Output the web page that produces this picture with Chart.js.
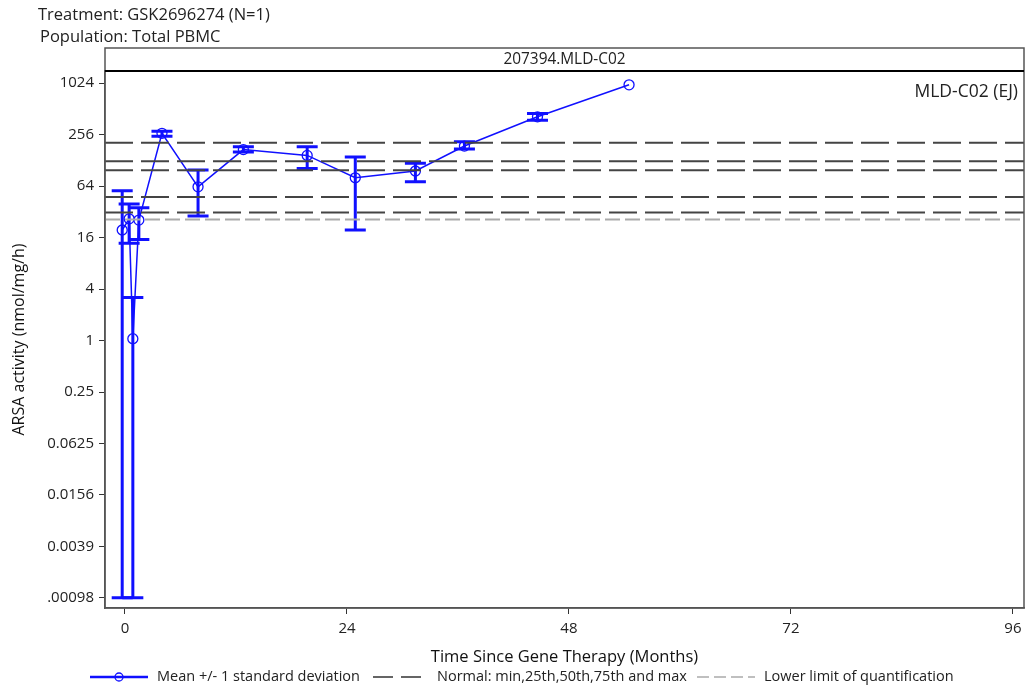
<!DOCTYPE html>
<html>
<head>
<meta charset="utf-8">
<script src="https://cdn.jsdelivr.net/npm/chart.js@4"></script>
<style>
  html, body { margin: 0; padding: 0; background: #fff; }
  #wrap { width: 1026px; height: 689px; }
</style>
</head>
<body>
<div id="wrap"><canvas id="myChart" width="1026" height="689"></canvas></div>
<script>
// ---------------- datos ----------------
var meses = [-0.3, 0.45, 0.85, 1.5, 4, 7.9, 12.8, 19.7, 24.9, 31.4, 36.7, 44.6, 54.5];
var media = [19.6, 26.5, 1.05, 25.6, 265, 62.7, 171, 146, 80, 96, 188, 413, 978];
var sdArriba = [56.5, 39.4, 3.18, 35.8, 280, 98.5, 185, 185, 140, 118, 211, 452, null];
var sdAbajo = [0.00098, 13.7, 0.00098, 15.2, 245, 28.5, 160, 103, 19.6, 72, 174, 377, null];

var normal = [31.5, 47.6, 98, 125, 206]; // min, 25th, 50th, 75th, max
var lloq = 26.1;

var yTicks = [0.0009765625, 0.00390625, 0.015625, 0.0625, 0.25, 1, 4, 16, 64, 256, 1024];
var yLabels = ['.00098', '0.0039', '0.0156', '0.0625', '0.25', '1', '4', '16', '64', '256', '1024'];
var xTicks = [0, 24, 48, 72, 96];

var xMin = -2.16, xMax = 97.2;
var yMin = Math.pow(2, -10.39), yMax = Math.pow(2, 10.47);

var fuente = "'Open Sans', 'DejaVu Sans', sans-serif";
var azul = '#1010ff';

// ---------------- datasets ----------------
var datasets = [];
for (let i = 0; i < normal.length; i++) {
    datasets.push({
        type: 'line',
        data: [{ x: xMin, y: normal[i] }, { x: xMax, y: normal[i] }],
        borderColor: '#444',
        borderWidth: 2,
        borderDash: [28, 8],
        pointRadius: 0,
        fill: false
    });
}
datasets.push({
    type: 'line',
    data: [{ x: xMin, y: lloq }, { x: xMax, y: lloq }],
    borderColor: '#aaa',
    borderWidth: 2,
    borderDash: [15, 5],
    pointRadius: 0,
    fill: false
});
datasets.push({
    type: 'line',
    label: 'Mean +/- 1 standard deviation',
    data: meses.map((m, i) => ({ x: m, y: media[i] })),
    borderColor: azul,
    borderWidth: 1.5,
    pointRadius: 5,
    pointBorderWidth: 1.3,
    pointBackgroundColor: 'rgba(0,0,0,0)',
    pointBorderColor: azul,
    fill: false,
    tension: 0
});

// ---------------- plugin: barras de error, cabecera, leyenda ----------------
const extras = {
    id: 'extras',
    beforeDatasetsDraw(chart) {
        const ctx = chart.ctx;
        const xs = chart.scales.x, ys = chart.scales.y;
        ctx.save();
        ctx.strokeStyle = azul;
        ctx.lineWidth = 3;
        for (let i = 0; i < meses.length; i++) {
            if (sdArriba[i] == null) continue;
            let px = xs.getPixelForValue(meses[i]);
            let pt = ys.getPixelForValue(sdArriba[i]);
            let pb = ys.getPixelForValue(sdAbajo[i]);
            ctx.beginPath();
            ctx.moveTo(px, pt); ctx.lineTo(px, pb);
            ctx.moveTo(px - 10.5, pt); ctx.lineTo(px + 10.5, pt);
            ctx.moveTo(px - 10.5, pb); ctx.lineTo(px + 10.5, pb);
            ctx.stroke();
        }
        ctx.restore();
    },
    afterDraw(chart) {
        const ctx = chart.ctx;
        const a = chart.chartArea;
        ctx.save();
        // marco
        ctx.strokeStyle = '#555';
        ctx.lineWidth = 1.5;
        ctx.strokeRect(a.left, 48, a.right - a.left, a.bottom - 48);
        ctx.strokeStyle = '#000';
        ctx.lineWidth = 2;
        ctx.beginPath();
        ctx.moveTo(a.left, a.top); ctx.lineTo(a.right, a.top);
        ctx.stroke();
        // textos
        ctx.fillStyle = '#222';
        ctx.textBaseline = 'middle';
        ctx.font = '15.4px ' + fuente;
        ctx.textAlign = 'center';
        ctx.fillText('207394.MLD-C02', (a.left + a.right) / 2, 60);
        ctx.font = '17.5px ' + fuente;
        ctx.textAlign = 'right';
        ctx.fillText('MLD-C02 (EJ)', a.right - 6, 92);
        ctx.textAlign = 'left';
        ctx.font = '16.5px ' + fuente;
        ctx.fillText('Treatment: GSK2696274 (N=1)', 38, 15);
        ctx.fillText('Population: Total PBMC', 40, 37);

        // leyenda
        let ly = 677;
        ctx.font = '14.5px ' + fuente;
        ctx.strokeStyle = azul;
        ctx.lineWidth = 2.5;
        ctx.beginPath(); ctx.moveTo(90, ly); ctx.lineTo(148, ly); ctx.stroke();
        ctx.lineWidth = 1.3;
        ctx.beginPath(); ctx.arc(119, ly, 4, 0, Math.PI * 2); ctx.stroke();
        ctx.fillStyle = '#222';
        ctx.fillText('Mean +/- 1 standard deviation', 157, ly);

        ctx.strokeStyle = '#333';
        ctx.lineWidth = 1.3;
        ctx.setLineDash([20, 8]);
        ctx.beginPath(); ctx.moveTo(373, ly); ctx.lineTo(426, ly); ctx.stroke();
        ctx.fillText('Normal: min,25th,50th,75th and max', 437, ly);

        ctx.strokeStyle = '#aaa';
        ctx.setLineDash([12, 5]);
        ctx.beginPath(); ctx.moveTo(697, ly); ctx.lineTo(755, ly); ctx.stroke();
        ctx.setLineDash([]);
        ctx.fillText('Lower limit of quantification', 764, ly);
        ctx.restore();
    }
};

new Chart(document.getElementById('myChart'), {
    data: { datasets: datasets },
    plugins: [extras],
    options: {
        responsive: false,
        animation: false,
        devicePixelRatio: 1,
        layout: { autoPadding: false, padding: { top: 71, left: 0, right: 2, bottom: 22 } },
        plugins: { legend: { display: false }, tooltip: { enabled: false } },
        scales: {
            x: {
                type: 'linear',
                min: xMin,
                max: xMax,
                afterBuildTicks: (s) => { s.ticks = xTicks.map(v => ({ value: v })); },
                afterFit: (s) => { s.height = 59; s.paddingRight = 0; s.paddingLeft = 0; },
                grid: { drawOnChartArea: false, drawTicks: true, tickLength: 6, color: '#333' },
                border: { display: true, color: '#555', width: 1.5 },
                ticks: { color: '#222', font: { family: fuente, size: 15 }, padding: 6, maxRotation: 0, autoSkip: false },
                title: {
                    display: true, text: 'Time Since Gene Therapy (Months)', color: '#111',
                    font: { family: fuente, size: 16.5 }, padding: { top: 0, bottom: 0 }
                }
            },
            y: {
                type: 'logarithmic',
                min: yMin,
                max: yMax,
                afterBuildTicks: (s) => { s.ticks = yTicks.map(v => ({ value: v })); },
                afterFit: (s) => { s.width = 105; },
                grid: { drawOnChartArea: false, drawTicks: true, tickLength: 6, color: '#333' },
                border: { display: true, color: '#555', width: 1.5 },
                ticks: {
                    color: '#222', font: { family: fuente, size: 15 }, padding: 5, autoSkip: false,
                    callback: (v) => { let k = yTicks.indexOf(v); return k >= 0 ? yLabels[k] : ''; }
                },
                title: {
                    display: true, text: 'ARSA activity (nmol/mg/h)', color: '#111',
                    font: { family: fuente, size: 16 }, padding: { top: 10, bottom: 0 }
                }
            }
        }
    }
});
</script>
</body>
</html>
